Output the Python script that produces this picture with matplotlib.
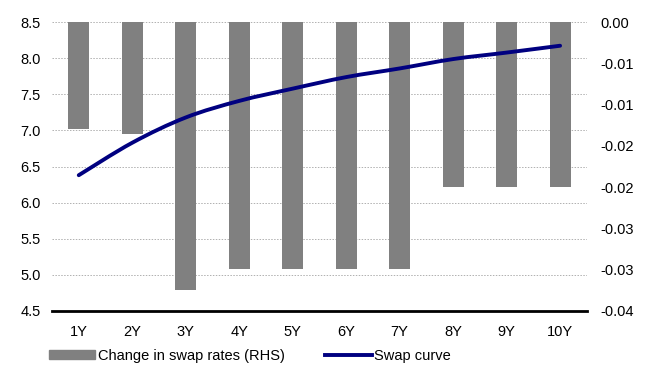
import numpy as np
import matplotlib
matplotlib.use('Agg')
import matplotlib.pyplot as plt
from matplotlib.path import Path
from matplotlib.patches import PathPatch
from matplotlib.lines import Line2D
from matplotlib.ticker import FixedLocator, FormatStrFormatter

plt.rcParams['font.family'] = ['Liberation Sans', 'DejaVu Sans']

tenors = ['1Y', '2Y', '3Y', '4Y', '5Y', '6Y', '7Y', '8Y', '9Y', '10Y']
swap_change = [-0.0148, -0.0155, -0.0371, -0.0342, -0.0342,
               -0.0342, -0.0342, -0.0228, -0.0228, -0.0228]
swap_curve = [6.38, 6.83, 7.18, 7.41, 7.58, 7.74, 7.86, 7.99, 8.08, 8.175]

LINE_COLOR = '#000080'
BAR_COLOR = '#808080'


def smooth_path(xs, ys):
    # Excel-style smoothed line: cubic Bezier through each point
    pts = np.column_stack([xs, ys]).astype(float)
    n = len(pts)
    verts = [pts[0]]
    codes = [Path.MOVETO]
    for i in range(n - 1):
        p0 = pts[max(i - 1, 0)]
        p1 = pts[i]
        p2 = pts[i + 1]
        p3 = pts[min(i + 2, n - 1)]
        c1 = p1 + (p2 - p0) / 6.0
        c2 = p2 - (p3 - p1) / 6.0
        verts += [c1, c2, p2]
        codes += [Path.CURVE4] * 3
    return Path(verts, codes)


fig = plt.figure(figsize=(6.47, 3.74), dpi=100)
ax = fig.add_axes([0.0804, 0.169, 0.8266, 0.7714])
ax2 = ax.twinx()

x = np.arange(len(tenors))

# bars on the right axis, hanging down from zero
ax2.bar(x, swap_change, width=0.39, color=BAR_COLOR, zorder=2)
ax2.set_ylim(-0.04, 0.0)
ax2.yaxis.set_major_locator(FixedLocator(np.linspace(-0.04, 0.0, 8)))
ax2.yaxis.set_major_formatter(FormatStrFormatter('%.2f'))

ax.set_ylim(4.5, 8.5)
ax.set_yticks(np.arange(4.5, 8.51, 0.5))
ax.yaxis.set_major_formatter(FormatStrFormatter('%.1f'))
ax.set_xlim(-0.5, len(tenors) - 0.5)
ax.set_xticks(x)
ax.set_xticklabels(tenors)
ax.grid(axis='y', color='#b0b0b0', linestyle=(0, (1.5, 1.5)), linewidth=0.7)
ax.set_axisbelow(True)

# smoothed line drawn on top of the bars, in left-axis units
curve = PathPatch(smooth_path(x, swap_curve), facecolor='none',
                  edgecolor=LINE_COLOR, linewidth=2.8, capstyle='round',
                  transform=ax.transData, zorder=3)
ax2.add_patch(curve)

for a in (ax, ax2):
    for s in ('top', 'left', 'right', 'bottom'):
        a.spines[s].set_visible(False)
    a.tick_params(length=0, labelsize=10.5, colors='black')
ax.spines['bottom'].set_visible(True)
ax.spines['bottom'].set_linewidth(2)
ax.spines['bottom'].set_color('black')
ax.tick_params(axis='y', pad=8)
ax.tick_params(axis='x', pad=10)
ax2.tick_params(axis='y', pad=10)

handles = [plt.Rectangle((0, 0), 1, 1, color=BAR_COLOR),
           Line2D([], [], color=LINE_COLOR, linewidth=2.8)]
labels = ['Change in swap rates (RHS)', 'Swap curve']
fig.legend(handles, labels, loc='lower left', bbox_to_anchor=(0.055, -0.005),
           ncol=2, frameon=False, fontsize=10.5, handlelength=3.2,
           handleheight=0.5, handletextpad=0.15, columnspacing=2.8)

plt.savefig('out.png', dpi=100)
